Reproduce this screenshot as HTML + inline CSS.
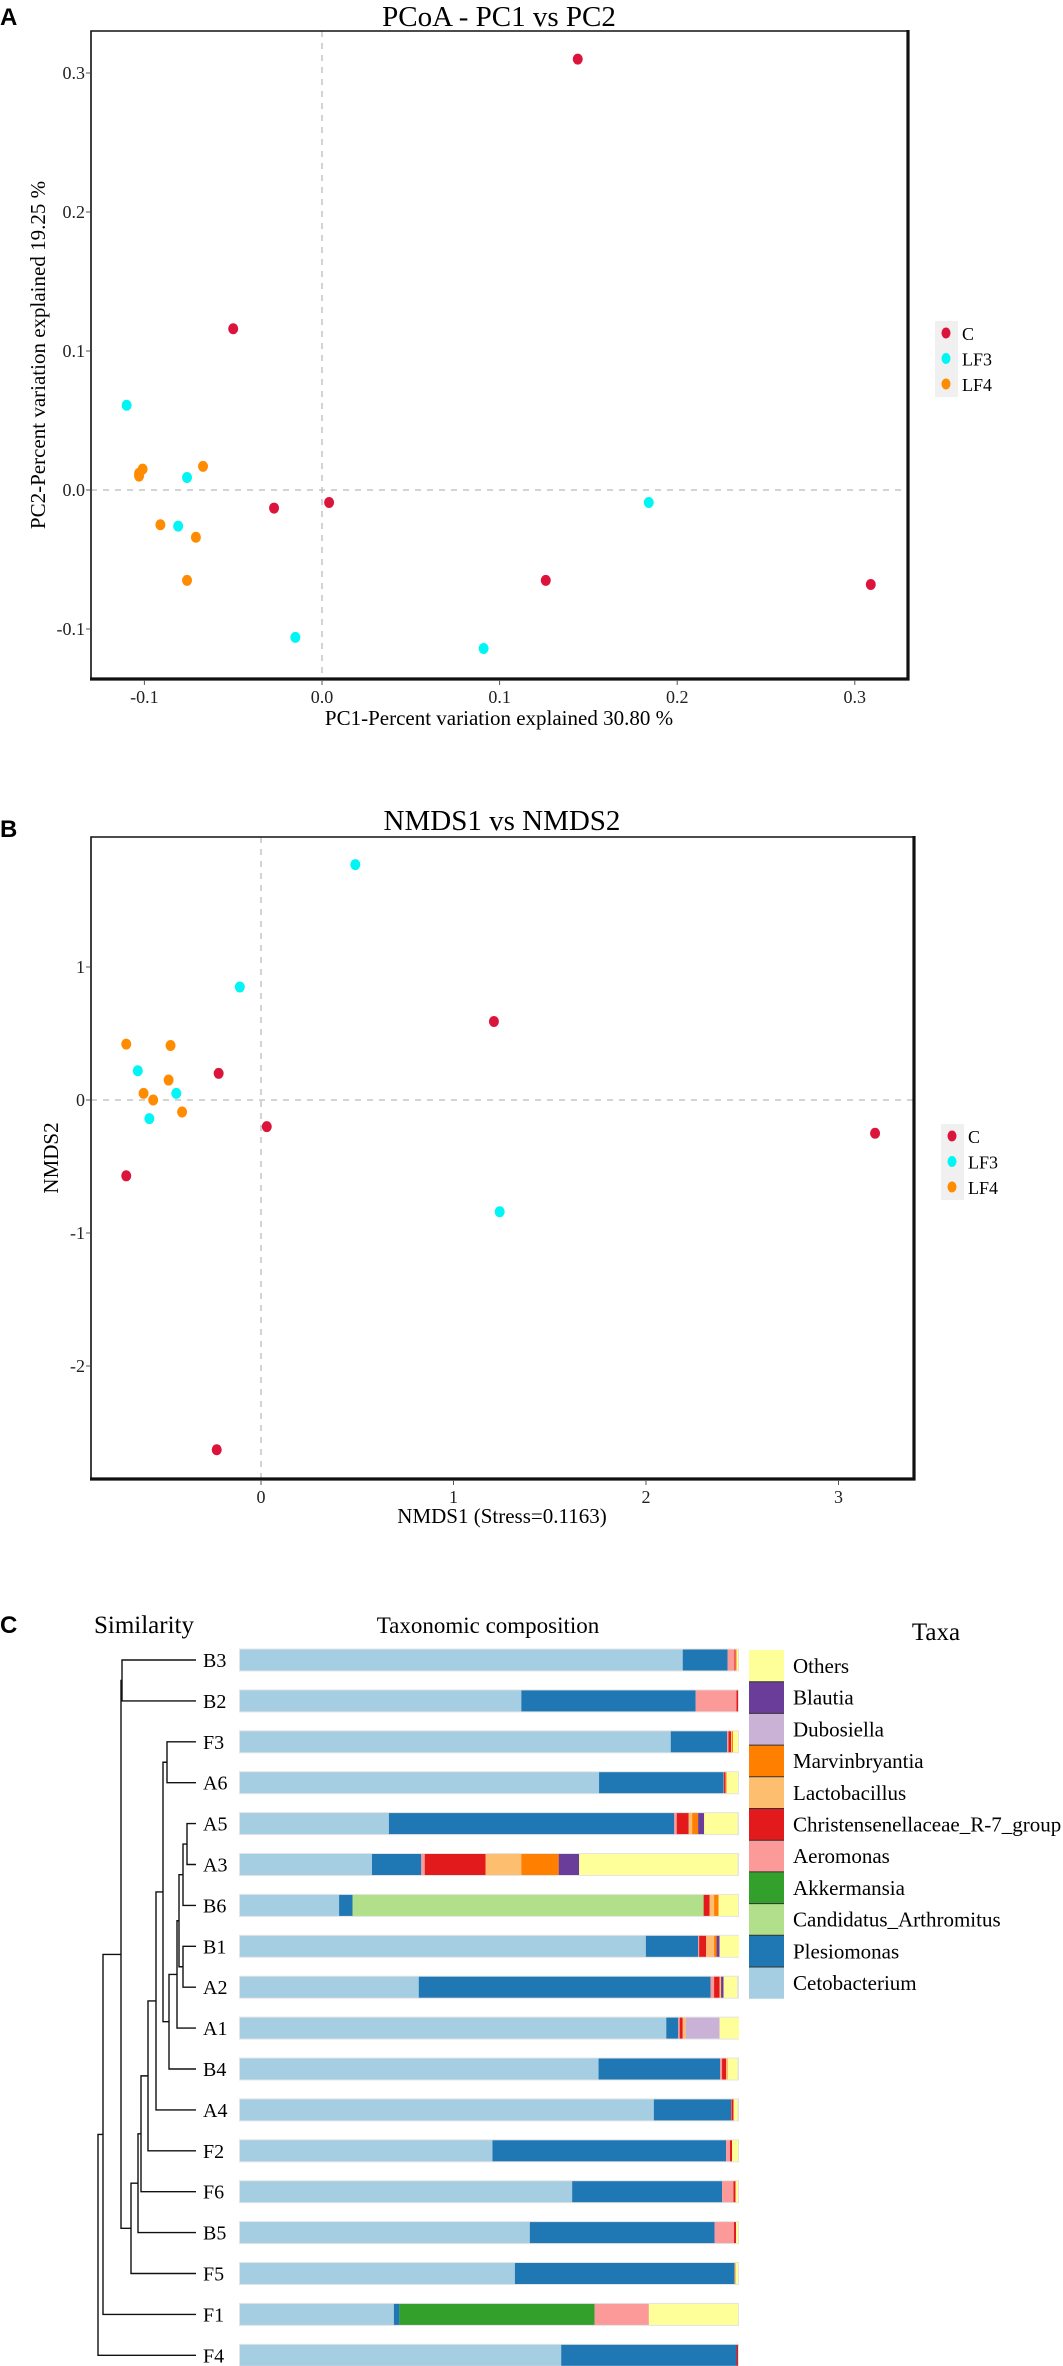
<!DOCTYPE html>
<html><head><meta charset="utf-8"><style>
html,body{margin:0;padding:0;background:#fff;}
svg{display:block;font-family:"Liberation Serif",serif;}
.ps{font-family:"Liberation Sans",sans-serif;font-weight:bold;}
</style></head><body>
<svg id="fig" width="1063" height="2366" viewBox="0 0 1063 2366" xmlns="http://www.w3.org/2000/svg">
<g id="pa">
<text class="ps" x="0" y="25" font-size="24">A</text>
<text x="499" y="26" font-size="29" text-anchor="middle">PCoA - PC1 vs PC2</text>
<text x="499" y="725" font-size="21" text-anchor="middle">PC1-Percent variation explained 30.80 %</text>
<text transform="translate(45,355) rotate(-90)" font-size="21" text-anchor="middle">PC2-Percent variation explained 19.25 %</text>
</g>
<g id="pb">
<text class="ps" x="0" y="837" font-size="24">B</text>
<text x="502" y="830" font-size="29" text-anchor="middle">NMDS1 vs NMDS2</text>
<text x="502" y="1523" font-size="21" text-anchor="middle">NMDS1 (Stress=0.1163)</text>
<text transform="translate(58,1158) rotate(-90)" font-size="21" text-anchor="middle">NMDS2</text>
</g>
<g id="pc">
<text class="ps" x="0" y="1633" font-size="24">C</text>
<text x="94" y="1633" font-size="25">Similarity</text>
<text x="488" y="1633" font-size="23" text-anchor="middle">Taxonomic composition</text>
<text x="936" y="1640" font-size="25" text-anchor="middle">Taxa</text>
</g>
</svg>
<script>
// ---- Panel A data (PCoA) ----
const pcoaGroups = ["C","C","C","C","C","C","LF3","LF3","LF3","LF3","LF3","LF3","LF4","LF4","LF4","LF4","LF4","LF4","LF4"];
const pcoaPC1 = [0.144,-0.050,-0.027,0.004,0.126,0.309, -0.110,-0.076,-0.081,-0.015,0.091,0.184, -0.103,-0.101,-0.067,-0.091,-0.071,-0.076,-0.103];
const pcoaPC2 = [0.310,0.116,-0.013,-0.009,-0.065,-0.068, 0.061,0.009,-0.026,-0.106,-0.114,-0.009, 0.010,0.015,0.017,-0.025,-0.034,-0.065,0.012];
const pcoaXTicks = [-0.1,0.0,0.1,0.2,0.3];
const pcoaXTickLabels = ["-0.1","0.0","0.1","0.2","0.3"];
const pcoaYTicks = [-0.1,0.0,0.1,0.2,0.3];
const pcoaYTickLabels = ["-0.1","0.0","0.1","0.2","0.3"];
// ---- Panel B data (NMDS) ----
const nmdsGroups = ["C","C","C","C","C","C","LF3","LF3","LF3","LF3","LF3","LF3","LF4","LF4","LF4","LF4","LF4","LF4"];
const nmds1 = [1.21,-0.22,0.03,3.19,-0.70,-0.23, 0.49,-0.11,-0.64,-0.44,-0.58,1.24, -0.70,-0.47,-0.48,-0.61,-0.56,-0.41];
const nmds2 = [0.59,0.20,-0.20,-0.25,-0.57,-2.63, 1.77,0.85,0.22,0.05,-0.14,-0.84, 0.42,0.41,0.15,0.05,0.00,-0.09];
const nmdsXTicks = [0,1,2,3];
const nmdsXTickLabels = ["0","1","2","3"];
const nmdsYTicks = [-2,-1,0,1];
const nmdsYTickLabels = ["-2","-1","0","1"];
// ---- Panel C data ----
const samples = ["B3","B2","F3","A6","A5","A3","B6","B1","A2","A1","B4","A4","F2","F6","B5","F5","F1","F4"];
const taxa = ["Cetobacterium","Plesiomonas","Candidatus_Arthromitus","Akkermansia","Aeromonas","Christensenellaceae_R-7_group","Lactobacillus","Marvinbryantia","Dubosiella","Blautia","Others"];
const cetobacterium = [0.889,0.565,0.865,0.721,0.299,0.265,0.199,0.815,0.359,0.856,0.720,0.831,0.507,0.667,0.582,0.552,0.309,0.645];
const plesiomonas   = [0.090,0.350,0.113,0.250,0.573,0.099,0.027,0.105,0.586,0.024,0.244,0.155,0.469,0.301,0.371,0.441,0.011,0.352];
const arthromitus   = [0,0,0,0,0,0,0.705,0,0,0,0,0,0,0,0,0,0,0];
const akkermansia   = [0,0,0,0,0,0,0,0,0,0,0,0,0,0,0,0,0.392,0];
const aeromonas     = [0.014,0.082,0.003,0.001,0.005,0.007,0,0.002,0.007,0.003,0.004,0.001,0.008,0.023,0.039,0,0.109,0];
const christensen   = [0.002,0.003,0.005,0.003,0.024,0.122,0.012,0.014,0.011,0.006,0.008,0.004,0.004,0.004,0.004,0,0,0.003];
const lactobacillus = [0.001,0,0.002,0.001,0.007,0.072,0.009,0.016,0.003,0.006,0.004,0,0,0,0,0.003,0,0];
const marvinbryantia= [0.001,0,0.002,0.001,0.012,0.075,0.009,0.005,0,0,0,0,0,0,0,0,0,0];
const dubosiella    = [0,0,0,0,0,0,0,0,0,0.068,0,0,0,0,0,0,0,0];
const blautia       = [0,0,0,0,0.012,0.041,0,0.006,0.005,0,0,0,0,0,0,0,0,0];
const others        = [0.003,0,0.010,0.023,0.067,0.318,0.039,0.039,0.027,0.039,0.019,0.008,0.012,0.005,0.004,0.004,0.179,0];
const taxaSeries = [cetobacterium,plesiomonas,arthromitus,akkermansia,aeromonas,christensen,lactobacillus,marvinbryantia,dubosiella,blautia,others];
// dendrogram merges: [left, right, similarity-position]
const merges = [["A5","A3",187],["N1","B6",183],["B1","A2",183],["N2","N3",179],["N4","A1",177],["N5","B4",169],["F3","A6",167],["N7","N6",163],["N8","A4",156],["N9","F2",148],["N10","F6",141],["N11","B5",138],["N12","F5",131],["B3","B2",122],["N14","N13",121],["N15","F1",103],["N16","F4",98]];

const NS="http://www.w3.org/2000/svg";
const svg=document.getElementById('fig');
function mk(tag,attrs,parent){const e=document.createElementNS(NS,tag);for(const k in attrs)e.setAttribute(k,attrs[k]);(parent||svg).appendChild(e);return e;}
const colors={C:"#dc143c",LF3:"#00f5f5",LF4:"#ff8c00"};
const taxaColors=["#a6cee3","#1f78b4","#b2df8a","#33a02c","#fb9a99","#e31a1c","#fdbf6f","#ff7f00","#cab2d6","#6a3d9a","#ffff99"];

function scatter(gid,prefix,box,xs,ys,xv,yv,groups,xt,xtl,yt,ytl,legY){
  const g=document.getElementById(gid);
  let l=mk('line',{x1:xs(0),x2:xs(0),y1:box.t,y2:box.b,stroke:"#bbb","stroke-width":1.3,"stroke-dasharray":"6,6"},g);
  
  
  l=mk('line',{x1:box.l,x2:box.r,y1:ys(0),y2:ys(0),stroke:"#bbb","stroke-width":1.3,"stroke-dasharray":"6,6"},g);
  
  
  let p=mk('path',{d:`M${box.l},${box.b} L${box.l},${box.t} L${box.r},${box.t}`,fill:"none",stroke:"#111","stroke-width":1.6},g);
  
  
  p=mk('path',{d:`M${box.l-1},${box.b} L${box.r},${box.b} L${box.r},${box.t-1}`,fill:"none",stroke:"#111","stroke-width":3.2},g);
  
  
  xt.forEach((v,i)=>{
    const x=xs(v);
    const t=mk('line',{x1:x,x2:x,y1:box.b+1,y2:box.b+6,stroke:"#555","stroke-width":1},g);
    
    
    const tx=mk('text',{x:x,y:box.b+24,"font-size":18,"text-anchor":"middle",fill:"#222"},g);
    tx.textContent=xtl[i];
    
    
  });
  yt.forEach((v,i)=>{
    const y=ys(v);
    const t=mk('line',{x1:box.l-5,x2:box.l-1,y1:y,y2:y,stroke:"#555","stroke-width":1},g);
    
    
    const tx=mk('text',{x:box.l-6,y:y+6,"font-size":18,"text-anchor":"end",fill:"#222"},g);
    tx.textContent=ytl[i];
    
    
  });
  xv.forEach((v,i)=>{
    const c=mk('ellipse',{cx:xs(v),cy:ys(yv[i]),rx:5,ry:5.5,fill:colors[groups[i]]},g);
    
    
  });
  const lx=box.r+27;
  const bg=mk('rect',{x:lx,y:legY-12,width:23,height:76,fill:"#f0f0f0"},g);
  
  
  ["C","LF3","LF4"].forEach((k,i)=>{
    const y=legY+i*25.5;
    const c=mk('ellipse',{cx:lx+11,cy:y,rx:4.5,ry:5.5,fill:colors[k]},g);
    
    
    const t=mk('text',{x:lx+27,y:y+7,"font-size":18},g);
    t.textContent=k;
    
    
  });
}
const xA=v=>322+v*1776, yA=v=>490-v*1390;
scatter('pa','pcoa',{l:91,t:31,r:908,b:679},xA,yA,pcoaPC1,pcoaPC2,pcoaGroups,pcoaXTicks,pcoaXTickLabels,pcoaYTicks,pcoaYTickLabels,333);
const xB=v=>261+v*192.5, yB=v=>1100-v*133;
scatter('pb','nmds',{l:91,t:837,r:914,b:1479},xB,yB,nmds1,nmds2,nmdsGroups,nmdsXTicks,nmdsXTickLabels,nmdsYTicks,nmdsYTickLabels,1136);

// ---- Panel C ----
const gc=document.getElementById('pc');
const rowY=i=>1660+i*40.9;
const barX=240, barW=498, barH=21;
samples.forEach((s,i)=>{
  const y=rowY(i)-barH/2;
  let x=barX;
  const bg=mk('rect',{x:barX-1,y:y-1,width:barW+2,height:barH+2,fill:"#e4e4e4"},gc);
  
  
  taxaSeries.forEach((ser,k)=>{
    const w=ser[i]*barW;
    if(w<=0) return;
    const r=mk('rect',{x:x,y:y,width:w,height:barH,fill:taxaColors[k]},gc);
    
    
    x+=w;
  });
  const t=mk('text',{x:203,y:rowY(i)+7,"font-size":20},gc);
  t.textContent=s;
  
  
});
const nodeY={}; const nodeX={};
samples.forEach((s,i)=>{nodeY[s]=rowY(i);nodeX[s]=196;});
merges.forEach((m,j)=>{
  const id='N'+(j+1);
  const [a,b,h]=m;
  const ya=nodeY[a], yb=nodeY[b];
  const p=mk('path',{d:`M${nodeX[a]},${ya} L${h},${ya} L${h},${yb} L${nodeX[b]},${yb}`,fill:"none",stroke:"#111","stroke-width":1.4},gc);
  
  
  nodeY[id]=(ya+yb)/2; nodeX[id]=h;
});
for(let k=taxa.length-1,j=0;k>=0;k--,j++){
  const y=1650+j*31.7;
  const r=mk('rect',{x:749,y:y,width:35,height:31.7,fill:taxaColors[k]},gc);
  
  
  if(j>0){const ln=mk('line',{x1:749,x2:784,y1:y,y2:y,stroke:"#333","stroke-width":1},gc);
    
    }
  const t=mk('text',{x:793,y:y+23,"font-size":21},gc);
  t.textContent=taxa[k];
  
  
}
</script>
</body></html>
